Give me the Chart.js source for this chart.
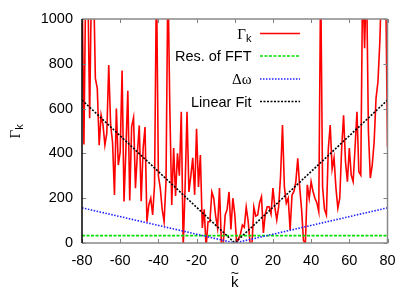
<!DOCTYPE html>
<html><head><meta charset="utf-8">
<script src="https://cdn.jsdelivr.net/npm/chart.js@4.4.0/dist/chart.umd.min.js"></script>
<style>html,body{margin:0;padding:0;background:#fff}</style>
</head><body>
<canvas id="c" width="415" height="292" style="width:415px;height:292px;display:block"></canvas>
<script>
// ---- data ----
const kMin = -80, kMax = 80;
const kValues = Array.from({length: kMax - kMin + 1}, (_, i) => kMin + i);
const gammaK = [
  1200, 440, 1200, 1200, 557, 1200, 1200, 736, 690, 437,   // -80..-71
  571, 527, 437, 491, 795, 527, 450, 214, 600, 348,       // -70..-61
  407, 770, 185, 420, 680, 190, 520, 560, 245, 400,       // -60..-51
  525, 187, 420, 518, 95, 170, 200, 125, 260, 1200,       // -50..-41
  300, 245, 150, 95, 275, 1200, 600, 170, 424, 210,       // -40..-31
  400, 300, 586, -20, 250, 586, 228, 300, 380, 215,       // -30..-21
  510, 250, 393, 67, 150, -20, 95, 95, 228, 200,          // -20..-11
  120, 67, 245, 0, 0, 125, 150, 228, 60, 200,             // -10..-1
  130,                                                    // 0
  0, 20, 40, 80, 70, 160, 100, 0, -10, 160,               // 1..10
  120, 125, 180, 207, 45, 130, 162, 162, 130, 245,        // 11..20
  160, 103, 162, 300, 527, 250, 178, 200, 58, 214,        // 21..30
  230, 274, 378, 250, 150, 10, 0, 260, 200, 274,          // 31..40
  230, 200, 180, 140, 1200, 250, 150, 125, 420, 527,      // 41..50
  330, 380, 245, 156, 200, 424, 570, 363, 274, 424,       // 51..60
  303, 274, 424, 586, 318, 303, 1200, 870, 1200, 500,     // 61..70
  290, 348, 450, 647, 720, 900, 1200, 1200, 1200, 430     // 71..80
];
const resFFTk = [-80, 80];
const resFFT = [33, 33];
const deltaOmegaK = [-80, 0, 80];
const deltaOmega = [157, 0, 157];
const linFitK = [-80, 0, 80];
const linFit = [638, 0, 638];
const xTicks = [-80, -60, -40, -20, 0, 20, 40, 60, 80];
const yTicks = [0, 200, 400, 600, 800, 1000];
const seriesNames = ['Γk', 'Res. of FFT', 'Δω', 'Linear Fit'];

const pts = (xs, ys) => xs.map((x, i) => ({x, y: ys[i]}));
const SANS = 'Liberation Sans', SERIF = 'Liberation Serif';

const decor = {
  id: 'decor',
  afterDatasetsDraw(chart) {
    const {ctx, chartArea: a, scales: {x, y}} = chart;
    const ln = (x1, y1, x2, y2) => { ctx.beginPath(); ctx.moveTo(x1, y1); ctx.lineTo(x2, y2); ctx.stroke(); };
    ctx.save();
    ctx.setLineDash([]);
    // inward ticks on all sides
    ctx.strokeStyle = '#808080'; ctx.lineWidth = 1;
    xTicks.forEach(v => { const p = Math.round(x.getPixelForValue(v)) + 0.5; ln(p, a.bottom, p, a.bottom - 4); ln(p, a.top, p, a.top + 4); });
    yTicks.forEach(v => { const p = Math.round(y.getPixelForValue(v)) + 0.5; ln(a.left, p, a.left + 4, p); ln(a.right, p, a.right - 4, p); });
    // frame
    ctx.lineWidth = 1.5;
    ctx.strokeStyle = '#888888';
    ln(a.left, a.top, a.right, a.top);
    ln(a.right, a.top, a.right, a.bottom);
    ln(a.left, a.bottom, a.right, a.bottom);
    ctx.strokeStyle = '#000000';
    ln(a.left, a.top, a.left, a.bottom);

    // legend
    const rows = [33.5, 56, 79, 101.5];
    const tx = 251.5, sx0 = 260, sx1 = 300;
    ctx.fillStyle = '#000';
    chart.data.datasets.forEach((ds, i) => {
      const ry = rows[i];
      ctx.textBaseline = 'alphabetic';
      ctx.textAlign = 'right';
      if (i === 0) {
        ctx.font = '11px ' + SANS;
        const kw = ctx.measureText('k').width;
        ctx.fillText('k', tx, ry + 8);
        ctx.font = '15px ' + SERIF;
        ctx.fillText('Γ', tx - kw, ry + 5);
      } else if (i === 2) {
        ctx.font = '15px ' + SERIF;
        ctx.fillText('Δω', tx, ry + 5);
      } else {
        ctx.font = '14.5px ' + SANS;
        ctx.fillText(ds.label, tx, ry + 5);
      }
      ctx.strokeStyle = ds.borderColor;
      ctx.lineWidth = ds.borderWidth;
      ctx.setLineDash(ds.borderDash || []);
      ln(sx0, ry, sx1, ry);
    });
    ctx.setLineDash([]);

    // y axis title (rotated Γk)
    ctx.save();
    ctx.translate(20, 138.5);
    ctx.rotate(-Math.PI / 2);
    ctx.textAlign = 'left';
    ctx.font = '15px ' + SERIF;
    ctx.fillText('Γ', 0, 0);
    const gw = ctx.measureText('Γ').width;
    ctx.font = '11px ' + SANS;
    ctx.fillText('k', gw, 3);
    ctx.restore();

    // x axis title (k with tilde)
    const cx = (a.left + a.right) / 2;
    ctx.textAlign = 'center';
    ctx.font = '15px ' + SANS;
    ctx.fillText('k', cx, 287);
    ctx.font = '14px ' + SANS;
    ctx.fillText('~', cx, 278);
    ctx.restore();
  }
};

new Chart(document.getElementById('c'), {
  type: 'line',
  data: {
    datasets: [
      {label: seriesNames[0], data: pts(kValues, gammaK), borderColor: '#ff0000', borderWidth: 1.6, pointRadius: 0, tension: 0, order: 4},
      {label: seriesNames[1], data: pts(resFFTk, resFFT), borderColor: '#00e000', borderWidth: 1.6, borderDash: [3, 1.5], pointRadius: 0, order: 3},
      {label: seriesNames[2], data: pts(deltaOmegaK, deltaOmega), borderColor: '#2020ff', borderWidth: 1.6, borderDash: [1.5, 1.5], pointRadius: 0, order: 2},
      {label: seriesNames[3], data: pts(linFitK, linFit), borderColor: '#000000', borderWidth: 1.6, borderDash: [2, 1.5], pointRadius: 0, order: 1}
    ]
  },
  options: {
    responsive: false, animation: false, devicePixelRatio: 1,
    layout: {padding: {left: 0, right: 27.5, top: 19, bottom: 0}},
    plugins: {legend: {display: false}, tooltip: {enabled: false}},
    scales: {
      x: {
        type: 'linear', min: kMin, max: kMax,
        afterBuildTicks: s => { s.ticks = xTicks.map(v => ({value: v})); },
        afterFit: s => { s.height = 49; },
        grid: {display: false, drawTicks: false}, border: {display: false},
        ticks: {color: '#000', font: {family: SANS, size: 14.5}, padding: 9, maxRotation: 0, autoSkip: false,
                callback: v => String(v)}
      },
      y: {
        min: 0, max: 1000,
        afterBuildTicks: s => { s.ticks = yTicks.map(v => ({value: v})); },
        afterFit: s => { s.width = 82; },
        grid: {display: false, drawTicks: false}, border: {display: false},
        ticks: {color: '#000', font: {family: SANS, size: 14.5}, padding: 9, callback: v => String(v)}
      }
    }
  },
  plugins: [decor]
});
</script>
</body></html>
